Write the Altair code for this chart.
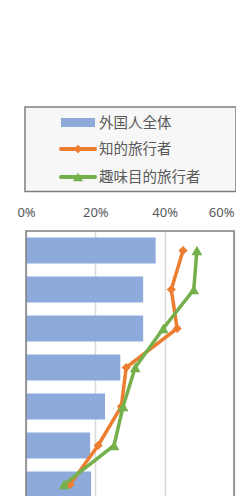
import altair as alt
import pandas as pd

# ---- data ----
categories = ["項目1", "項目2", "項目3", "項目4", "項目5", "項目6", "項目7"]
all_foreign = [0.374, 0.338, 0.338, 0.272, 0.228, 0.185, 0.188]
intellectual = [0.453, 0.419, 0.436, 0.289, 0.275, 0.208, 0.127]
hobby = [0.493, 0.484, 0.396, 0.315, 0.280, 0.254, 0.110]
series_names = ["外国人全体", "知的旅行者", "趣味目的旅行者"]
series_colors = ["#8eaadb", "#ed7d31", "#74b04c"]
x_ticks = [0, 0.2, 0.4, 0.6]

rows = []
for i, c in enumerate(categories):
    rows.append({"cat": c, "idx": i, "series": series_names[0], "value": all_foreign[i]})
    rows.append({"cat": c, "idx": i, "series": series_names[1], "value": intellectual[i]})
    rows.append({"cat": c, "idx": i, "series": series_names[2], "value": hobby[i]})
df = pd.DataFrame(rows)

PLOT_W = 208
VIEW_H = 265      # visible part of the plot (page is cut at the bottom)
BAND_H = 273      # full extent of the category scale

x_enc = alt.X(
    "value:Q",
    scale=alt.Scale(domain=[0, 0.6], nice=False, zero=True),
    axis=alt.Axis(
        orient="top", values=x_ticks, format=".0%", grid=True,
        gridColor="#d9d9d9", gridWidth=1.5, domain=False, ticks=False,
        tickSize=0, labelPadding=15, labelBaseline="alphabetic",
        labelFont="Noto Sans", labelFontSize=13, labelColor="#595959",
        labelAlign=alt.ExprRef("datum.value >= 0.6 ? 'right' : 'center'"),
        labelFlush=False, labelOverlap=False, labelBound=False, title=None,
    ),
)
y_enc = alt.Y(
    "cat:N", sort=categories,
    scale=alt.Scale(domain=categories, range=[0, BAND_H],
                    paddingInner=0.333, paddingOuter=0.1667),
    axis=None,
)

base = alt.Chart(df)
bars = base.transform_filter(alt.datum.series == series_names[0]).mark_bar(
    color=series_colors[0]
).encode(x=x_enc, y=y_enc)

def line_layers(name, color, shape, size):
    src = base.transform_filter(alt.datum.series == name)
    ln = src.mark_line(color=color, strokeWidth=3.5).encode(
        x=x_enc, y=y_enc, order=alt.Order("idx:Q"))
    pt = src.mark_point(shape=shape, filled=True, size=size, color=color, opacity=1).encode(
        x=x_enc, y=y_enc)
    return [ln, pt]

layers = [bars]
layers += line_layers(series_names[1], series_colors[1], "diamond", 85)
layers += line_layers(series_names[2], series_colors[2], "triangle-up", 115)

one = pd.DataFrame({"k": [0]})
# plot-area frame (bottom edge lies below the visible page)
layers.append(alt.Chart(one).mark_rect(fill=None, stroke="#808080", strokeWidth=1.5).encode(
    x=alt.value(0), x2=alt.value(PLOT_W), y=alt.value(0), y2=alt.value(BAND_H + 10)))

# ---- legend (drawn by hand) ----
legend_box = alt.Chart(one).mark_rect(fill="#f7f7f7", stroke="#7f7f7f", strokeWidth=1.5).encode(
    x=alt.value(-1), x2=alt.value(210), y=alt.value(-124), y2=alt.value(-39.5))
layers.append(legend_box)

item_y = [-108.5, -82, -54]
for i, name in enumerate(series_names):
    yy = item_y[i]
    if i == 0:
        layers.append(alt.Chart(one).mark_rect(color=series_colors[0]).encode(
            x=alt.value(35), x2=alt.value(69), y=alt.value(yy - 4.5), y2=alt.value(yy + 4.5)))
    else:
        layers.append(alt.Chart(one).mark_rule(color=series_colors[i], strokeWidth=4, strokeCap="round").encode(
            x=alt.value(35), x2=alt.value(69), y=alt.value(yy)))
        layers.append(alt.Chart(one).mark_point(
            shape="diamond" if i == 1 else "triangle-up", filled=True,
            size=70 if i == 1 else 100, color=series_colors[i], opacity=1).encode(
            x=alt.value(52), y=alt.value(yy)))
    layers.append(alt.Chart(pd.DataFrame({"label": [name]})).mark_text(
        align="left", baseline="middle", font="Noto Sans CJK JP", fontSize=14.5,
        color="#595959").encode(x=alt.value(73), y=alt.value(yy + 1), text="label:N"))

chart = alt.layer(*layers).properties(
    width=PLOT_W, height=VIEW_H,
    autosize=alt.AutoSizeParams(type="none"),
    padding={"left": 18, "top": 223, "right": 2, "bottom": 0},
    background="white",
).configure_view(stroke=None)

chart.save("out.html", embed_options={"renderer": "svg", "actions": False})
